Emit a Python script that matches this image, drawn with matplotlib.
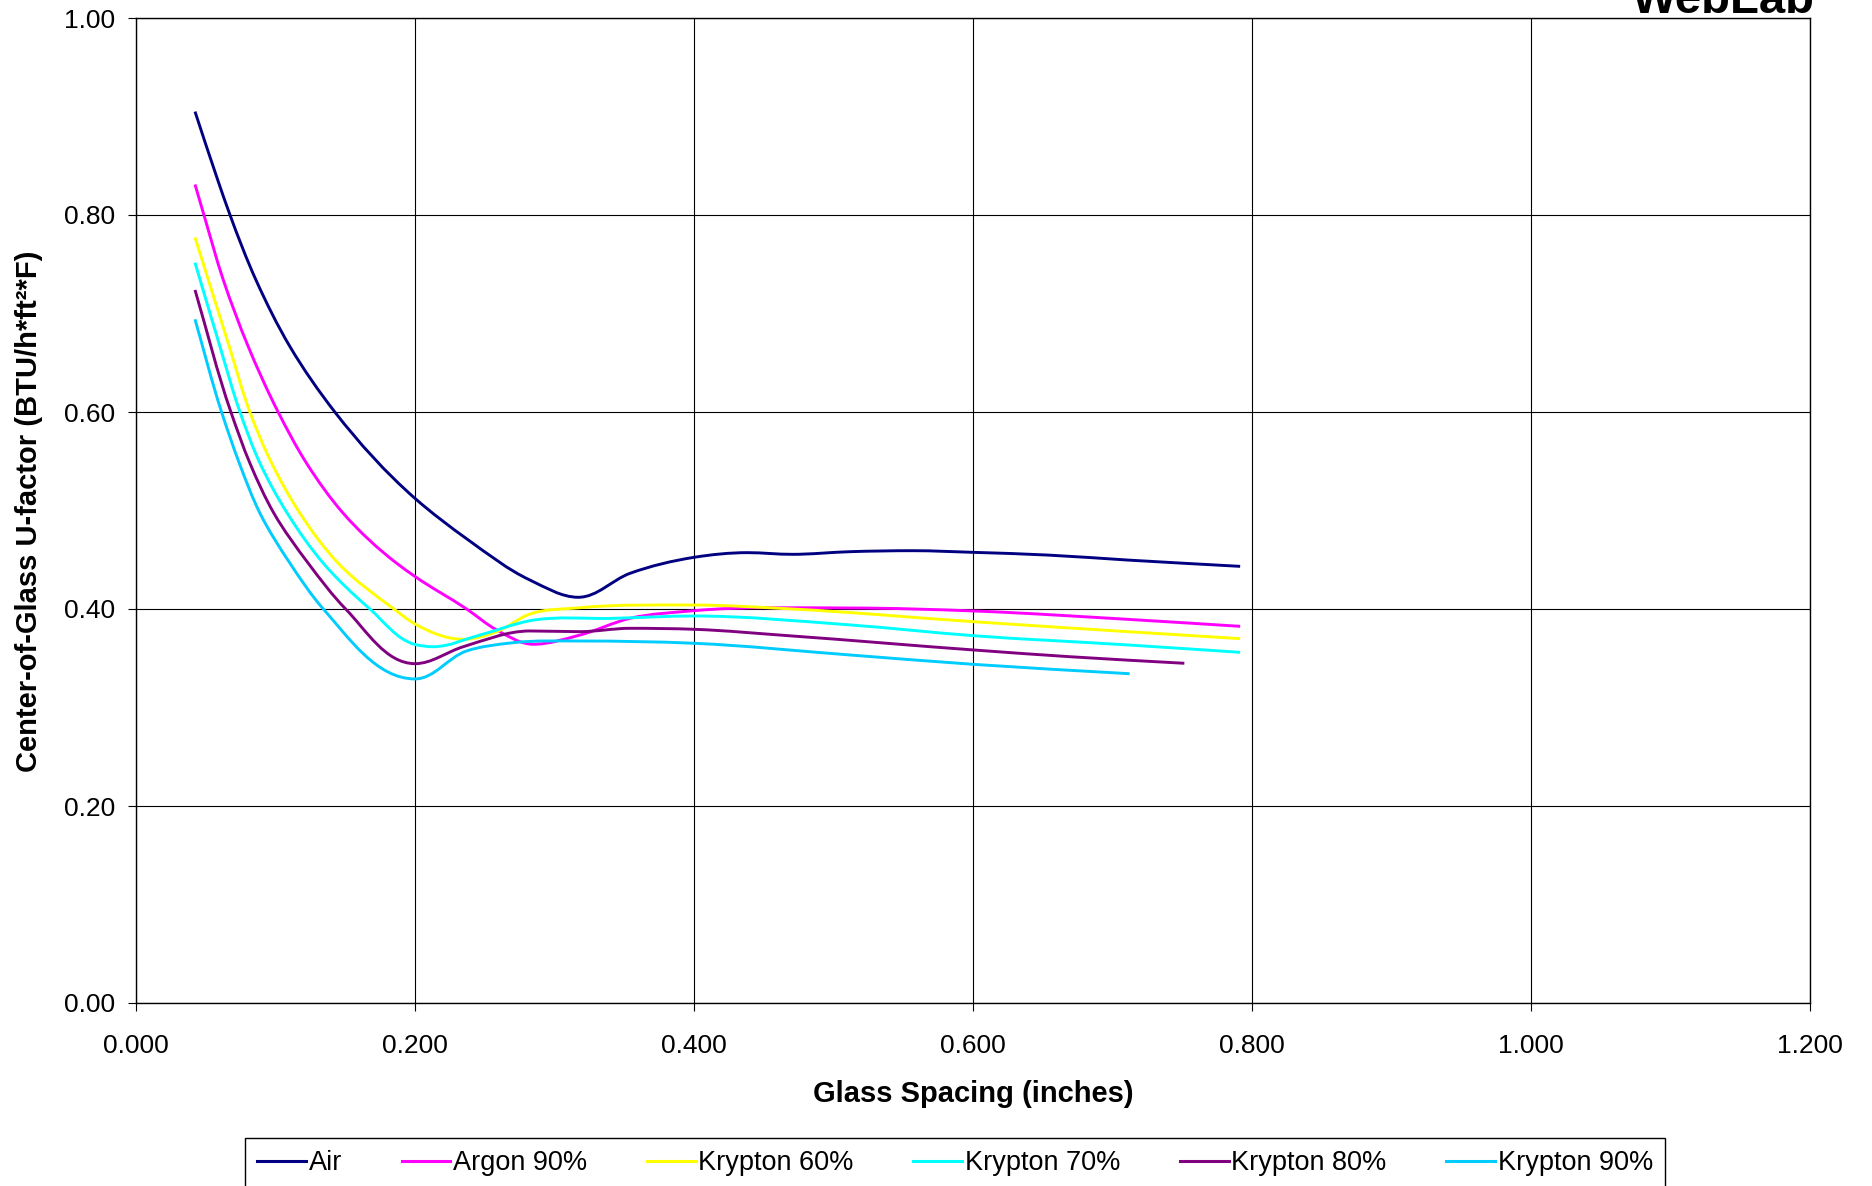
import matplotlib
matplotlib.use("Agg")
import matplotlib.pyplot as plt
from matplotlib.path import Path
from matplotlib.patches import PathPatch
from matplotlib.lines import Line2D
import numpy as np

plt.rcParams['font.family'] = ['Liberation Sans', 'DejaVu Sans']

# Data (glass spacing in inches, U-factor)
air_x = [0.0423, 0.0586, 0.0674, 0.086, 0.1104, 0.1427, 0.2, 0.2382,
         0.2824, 0.3171, 0.3541, 0.4002, 0.4384, 0.4704, 0.5121, 0.5569, 0.6005,
         0.653, 0.7108, 0.7915]
air_y = [0.905, 0.8355, 0.800, 0.734, 0.6663, 0.5997, 0.5123, 0.4701,
         0.4294, 0.4119, 0.4362, 0.4525, 0.4572, 0.4555, 0.4582, 0.4592, 0.4575,
         0.4548, 0.4497, 0.4433]

argon_x = [0.0423, 0.0487, 0.0626, 0.0805, 0.102, 0.1223, 0.1486, 0.1869, 0.2,
           0.237, 0.2586, 0.2848, 0.3183, 0.3541, 0.4002, 0.512, 0.6005, 0.711, 0.7915]
argon_y = [0.831, 0.800, 0.734, 0.6663, 0.5997, 0.5479, 0.4971, 0.4464, 0.433,
           0.400, 0.3787, 0.3642, 0.3736, 0.3905, 0.3983, 0.401, 0.398, 0.3895, 0.3824]

kr60_x = [0.0423, 0.0669, 0.0817, 0.0973, 0.1176, 0.145, 0.1849, 0.2, 0.2346,
          0.2586, 0.2824, 0.3183, 0.4, 0.4704, 0.6005, 0.711, 0.7915]
kr60_y = [0.7773, 0.6663, 0.5997, 0.5479, 0.4971, 0.4464, 0.400, 0.3848, 0.3692,
          0.377, 0.3949, 0.4013, 0.404, 0.400, 0.3871, 0.377, 0.3699]

kr70_x = [0.0423, 0.0602, 0.0746, 0.0889, 0.1085, 0.1343, 0.1677, 0.2, 0.2131,
          0.2466, 0.2824, 0.3421, 0.4, 0.512, 0.6005, 0.711, 0.7915]
kr70_y = [0.7516, 0.6663, 0.5997, 0.5479, 0.4971, 0.4464, 0.400, 0.364, 0.3617,
          0.3736, 0.3881, 0.3905, 0.3929, 0.3838, 0.3729, 0.3635, 0.356]

kr80_x = [0.0423, 0.0681, 0.0817, 0.0989, 0.1235, 0.1503, 0.2, 0.2346,
          0.2824, 0.3183, 0.3541, 0.4, 0.4704, 0.6005, 0.669, 0.7515]
kr80_y = [0.7239, 0.5997, 0.5479, 0.4971, 0.4464, 0.400, 0.3445, 0.3617,
          0.3777, 0.377, 0.3804, 0.3794, 0.3726, 0.3584, 0.3516, 0.3449]

kr90_x = [0.0423, 0.0614, 0.0741, 0.0889, 0.1104, 0.1343, 0.2,
          0.237, 0.2705, 0.3183, 0.4, 0.512, 0.6005, 0.7123]
kr90_y = [0.6941, 0.5997, 0.5479, 0.4971, 0.4464, 0.400, 0.329,
          0.3574, 0.3658, 0.3675, 0.3652, 0.3533, 0.3438, 0.3343]

series_names = ['Air', 'Argon 90%', 'Krypton 60%', 'Krypton 70%', 'Krypton 80%', 'Krypton 90%']
series_x = [air_x, argon_x, kr60_x, kr70_x, kr80_x, kr90_x]
series_y = [air_y, argon_y, kr60_y, kr70_y, kr80_y, kr90_y]
colors = ['#000080', '#FF00FF', '#FFFF00', '#00FFFF', '#800080', '#00CCFF']

x_ticks = [0.0, 0.2, 0.4, 0.6, 0.8, 1.0, 1.2]
y_ticks = [0.0, 0.2, 0.4, 0.6, 0.8, 1.0]


def smooth_path(xs, ys, kx=1395.0, ky=985.0):
    # Excel-style smoothed line: cubic bezier segments through every data point.
    # Tangents lean towards the nearer neighbour; at a local min/max they are flat.
    q = np.column_stack([np.asarray(xs) * kx, np.asarray(ys) * ky])
    n = len(q)
    seg = q[1:] - q[:-1]
    h = np.hypot(seg[:, 0], seg[:, 1])
    u = seg / h[:, None]
    tang = np.zeros_like(q)
    tang[0], tang[-1] = u[0], u[-1]
    for i in range(1, n - 1):
        if seg[i - 1, 1] * seg[i, 1] <= 0:
            tang[i] = [1.0, 0.0]
            continue
        t = h[i] * u[i - 1] + h[i - 1] * u[i]
        tang[i] = t / np.hypot(*t)
    verts = [q[0]]
    codes = [Path.MOVETO]
    for i in range(n - 1):
        d = h[i] / 3.0
        verts += [q[i] + tang[i] * d, q[i + 1] - tang[i + 1] * d, q[i + 1]]
        codes += [Path.CURVE4] * 3
    verts = np.array(verts) / [kx, ky]
    return Path(verts, codes)


fig = plt.figure(figsize=(18.72, 11.86), dpi=100)
ax = fig.add_axes([136 / 1872, 1 - 1003 / 1186, (1810 - 136) / 1872, (1003 - 18) / 1186])

for xs, ys, c in zip(series_x, series_y, colors):
    ax.add_patch(PathPatch(smooth_path(xs, ys), fill=False, edgecolor=c, lw=2.1,
                           capstyle='butt', joinstyle='round', zorder=3))

ax.set_xlim(0, 1.2)
ax.set_ylim(0, 1.0)
ax.set_xticks(x_ticks)
ax.set_yticks(y_ticks)
ax.set_xticklabels([f'{v:.3f}' for v in x_ticks])
ax.set_yticklabels([f'{v:.2f}' for v in y_ticks])
ax.grid(True, color='black', lw=0.8)
ax.set_axisbelow(True)
for s in ax.spines.values():
    s.set_color('black')
    s.set_linewidth(1.0)
ax.tick_params(axis='both', direction='out', length=6, width=0.8, labelsize=19, colors='black')
ax.tick_params(axis='x', pad=16.5)
ax.tick_params(axis='y', pad=9)

ax.set_xlabel('Glass Spacing (inches)', fontsize=21, fontweight='bold', va='center')
ax.xaxis.set_label_coords(0.5, -(1094 - 1003) / 985)
ax.set_ylabel('Center-of-Glass U-factor (BTU/h*ft²*F)', fontsize=21, fontweight='bold', va='center')
ax.yaxis.set_label_coords(-(136 - 29) / 1674, 0.499)

handles = [Line2D([], [], color=c, lw=2.2) for c in colors]
leg = fig.legend(handles, series_names, loc='upper left', ncol=6, mode='expand',
                 bbox_to_anchor=(245 / 1872, 0, 1420 / 1872, 1 - 1138 / 1186),
                 borderaxespad=0, fontsize=19.5, handlelength=1.8, handletextpad=0.1,
                 borderpad=0.45, fancybox=False, framealpha=1, edgecolor='black')
leg.get_frame().set_linewidth(1.0)

fig.text(1815 / 1872, 1 - 13 / 1186, 'WebLab', ha='right', va='baseline',
         fontsize=34, fontweight='bold', color='black')

fig.savefig('out.png', dpi=100)
